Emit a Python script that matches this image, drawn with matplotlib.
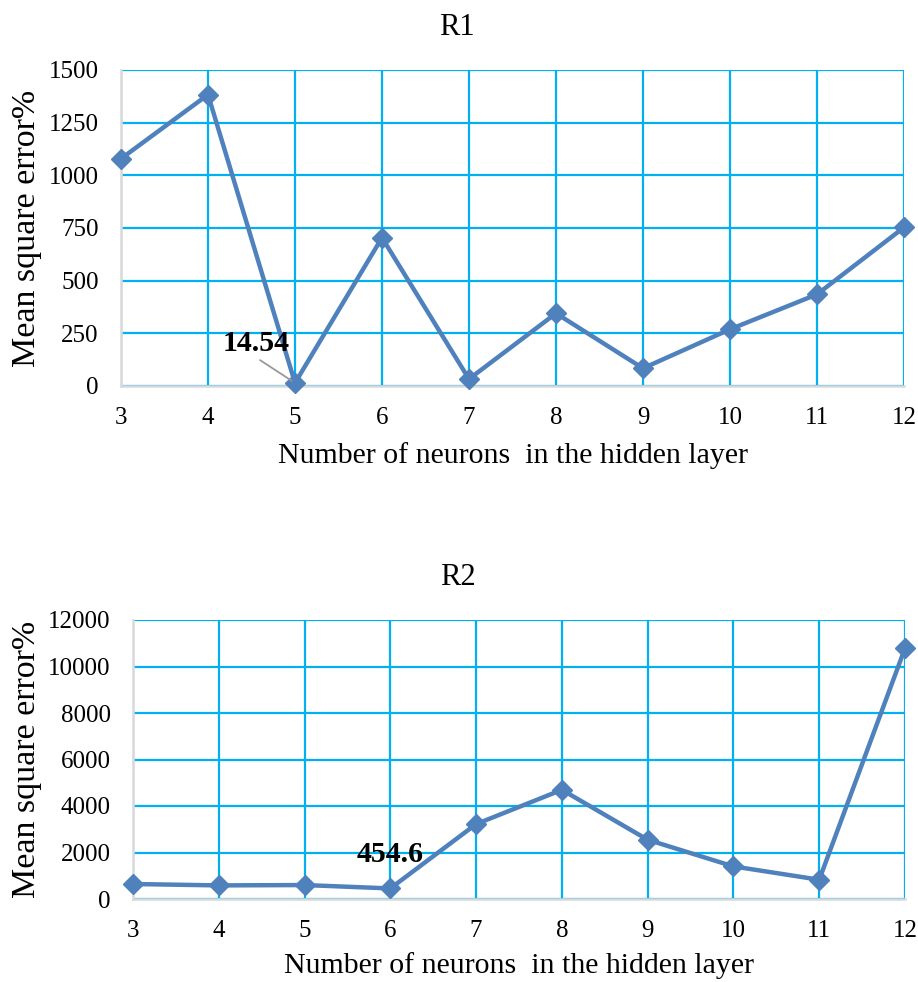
import matplotlib
matplotlib.use("Agg")
import matplotlib.pyplot as plt

neurons = [3, 4, 5, 6, 7, 8, 9, 10, 11, 12]
r1_mse = [1079, 1383, 14.54, 704, 33, 345, 84, 269, 435, 753]
r2_mse = [644, 585, 600, 454.6, 3222, 4696, 2548, 1402, 829, 10784]
r1_yticks = [0, 250, 500, 750, 1000, 1250, 1500]
r2_yticks = [0, 2000, 4000, 6000, 8000, 10000, 12000]
titles = ["R1", "R2"]
xlabel = "Number of neurons  in the hidden layer"
ylabel = "Mean square error%"
r1_note = "14.54"
r2_note = "454.6"

plt.rcParams['font.family'] = ['Liberation Serif', 'DejaVu Serif']

W, H = 918, 982
fig = plt.figure(figsize=(W / 100, H / 100), dpi=100)

LINE = '#4F81BD'
GRID = '#00B0F0'
SPINE = '#D9D9D9'


def make_ax(rect_px, yvals, yticks, title, ylabel_x, title_x, xlabel_off):
    l, r, t, b = rect_px
    ax = fig.add_axes([l / W, 1 - b / H, (r - l) / W, (b - t) / H])
    ax.plot(neurons, yvals, color=LINE, lw=3.2, marker='D', ms=10,
            mfc=LINE, mec=LINE, clip_on=False, zorder=5)
    ax.set_xlim(neurons[0], neurons[-1])
    ax.set_ylim(yticks[0], yticks[-1])
    ax.set_xticks(neurons)
    ax.set_yticks(yticks)
    ax.set_axisbelow(True)
    ax.grid(True, color=GRID, lw=1.6)
    for s in ['top', 'right']:
        ax.spines[s].set_visible(False)
    for s in ['left', 'bottom']:
        ax.spines[s].set_color(SPINE)
        ax.spines[s].set_linewidth(1.8)
    ax.tick_params(length=0, labelsize=18, colors='black')
    ax.tick_params(axis='x', pad=15)
    ax.tick_params(axis='y', pad=16)
    ax.set_title(title, fontsize=22, pad=25, x=(title_x - l) / (r - l))
    ax.set_xlabel(xlabel, fontsize=21.5)
    ax.xaxis.label.set_va('center')
    ax.xaxis.set_label_coords(0.5, -xlabel_off / (b - t))
    ax.set_ylabel(ylabel, fontsize=24.5)
    ax.yaxis.label.set_va('center')
    ax.yaxis.set_label_coords((ylabel_x - l) / (r - l), 0.5)
    return ax


ax1 = make_ax((121, 904, 70, 386), r1_mse, r1_yticks, titles[0], 27, 457, 70)
ax1.annotate(r1_note, xy=(neurons[2], r1_mse[2]), xytext=(4.55, 200),
             fontsize=21.5, fontweight='bold', ha='center', va='center',
             arrowprops=dict(arrowstyle='-', color='#999999', lw=1.3,
                             shrinkA=0, shrinkB=3, relpos=(0.5, 0.0)),
             zorder=6)

ax2 = make_ax((133, 905, 620, 899), r2_mse, r2_yticks, titles[1], 27, 458, 67)
ax2.annotate(r2_note, xy=(neurons[3], r2_mse[3]), xytext=(6.0, 1935),
             fontsize=21.5, fontweight='bold', ha='center', va='center',
             zorder=6)

fig.savefig('out.png', dpi=100)
